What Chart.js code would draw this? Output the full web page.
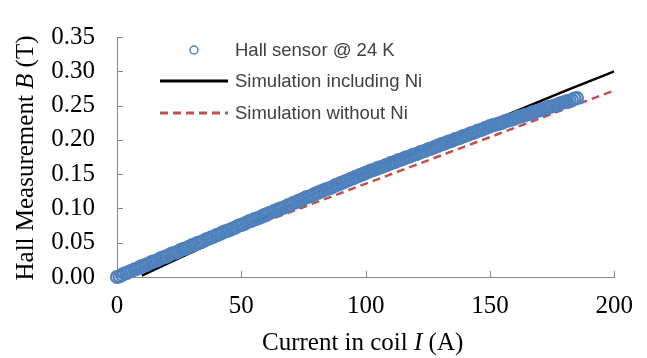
<!DOCTYPE html>
<html>
<head>
<meta charset="utf-8">
<script src="https://cdn.jsdelivr.net/npm/chart.js@4.4.1/dist/chart.umd.min.js"></script>
<style>
  html, body { margin: 0; padding: 0; background: #fff; }
  #wrap { width: 647px; height: 358px; }
</style>
</head>
<body>
<div id="wrap"><canvas id="hallChart" width="647" height="358"></canvas></div>
<script>
const seriesNames = ['Hall sensor @ 24 K', 'Simulation including Ni', 'Simulation without Ni'];

// Hall sensor @ 24 K (current in A, field in T)
const hallCurrent = [
  0, 1, 2, 3, 4, 5, 6, 7, 8, 9, 10, 11, 12, 13, 14, 15, 16, 17, 18, 19,
  20, 21, 22, 23, 24, 25, 26, 27, 28, 29, 30, 31, 32, 33, 34, 35, 36, 37, 38, 39,
  40, 41, 42, 43, 44, 45, 46, 47, 48, 49, 50, 51, 52, 53, 54, 55, 56, 57, 58, 59,
  60, 61, 62, 63, 64, 65, 66, 67, 68, 69, 70, 71, 72, 73, 74, 75, 76, 77, 78, 79,
  80, 81, 82, 83, 84, 85, 86, 87, 88, 89, 90, 91, 92, 93, 94, 95, 96, 97, 98, 99,
  100, 101, 102, 103, 104, 105, 106, 107, 108, 109, 110, 111, 112, 113, 114, 115, 116, 117, 118, 119,
  120, 121, 122, 123, 124, 125, 126, 127, 128, 129, 130, 131, 132, 133, 134, 135, 136, 137, 138, 139,
  140, 141, 142, 143, 144, 145, 146, 147, 148, 149, 150, 151, 152, 153, 154, 155, 156, 157, 158, 159,
  160, 161, 162, 163, 164, 165, 166, 167, 168, 169, 170, 171, 172, 173, 174, 175, 176, 177, 178, 179,
  180, 181, 182, 183, 184, 185];
const hallField = [
  0.000, 0.001, 0.003, 0.005, 0.006, 0.008, 0.009, 0.011, 0.012, 0.014,
  0.016, 0.017, 0.018, 0.020, 0.022, 0.023, 0.024, 0.026, 0.028, 0.029,
  0.030, 0.032, 0.034, 0.035, 0.036, 0.038, 0.040, 0.041, 0.042, 0.044,
  0.046, 0.047, 0.049, 0.050, 0.051, 0.053, 0.055, 0.056, 0.058, 0.059,
  0.061, 0.062, 0.064, 0.066, 0.067, 0.068, 0.070, 0.071, 0.073, 0.075,
  0.076, 0.077, 0.079, 0.081, 0.082, 0.084, 0.085, 0.086, 0.088, 0.090,
  0.091, 0.093, 0.094, 0.096, 0.097, 0.099, 0.100, 0.101, 0.103, 0.105,
  0.106, 0.108, 0.109, 0.111, 0.112, 0.114, 0.116, 0.117, 0.118, 0.120,
  0.122, 0.123, 0.125, 0.126, 0.128, 0.129, 0.130, 0.132, 0.134, 0.135,
  0.137, 0.138, 0.140, 0.141, 0.143, 0.144, 0.146, 0.147, 0.149, 0.150,
  0.152, 0.153, 0.155, 0.156, 0.157, 0.159, 0.160, 0.161, 0.163, 0.164,
  0.166, 0.167, 0.168, 0.170, 0.171, 0.172, 0.174, 0.175, 0.176, 0.178,
  0.179, 0.180, 0.182, 0.183, 0.184, 0.186, 0.187, 0.188, 0.190, 0.191,
  0.193, 0.194, 0.195, 0.197, 0.198, 0.199, 0.201, 0.202, 0.203, 0.205,
  0.206, 0.207, 0.209, 0.210, 0.211, 0.213, 0.214, 0.215, 0.217, 0.218,
  0.220, 0.221, 0.222, 0.223, 0.224, 0.225, 0.227, 0.228, 0.229, 0.230,
  0.231, 0.233, 0.234, 0.235, 0.236, 0.237, 0.238, 0.240, 0.241, 0.242,
  0.243, 0.244, 0.246, 0.247, 0.248, 0.249, 0.250, 0.251, 0.253, 0.254,
  0.255, 0.256, 0.257, 0.258, 0.260, 0.261];

// Simulation including Ni
const withNiCurrent = [10, 20, 30, 40, 50, 60, 70, 80, 90, 100, 120, 140, 160, 180, 200];
const withNiField = [0.002, 0.019, 0.036, 0.053, 0.070, 0.088, 0.105, 0.122, 0.138, 0.153, 0.183,
  0.212, 0.241, 0.271, 0.300];

// Simulation without Ni
const noNiCurrent = [0, 200];
const noNiField = [0, 0.272];

const xTicks = [0, 50, 100, 150, 200];
const yTicks = [0, 0.05, 0.10, 0.15, 0.20, 0.25, 0.30, 0.35];

const serif = '"Liberation Serif", "Times New Roman", serif';
const gray = '#868686';

const toPoints = (xs, ys) => xs.map((x, i) => ({ x: x, y: ys[i] }));

// text with italic symbol, centred on (x, y)
function drawMixed(ctx, parts, x, y, size) {
    let total = 0;
    parts.forEach(p => {
        ctx.font = (p[1] ? 'italic ' : '') + size + 'px ' + serif;
        total += ctx.measureText(p[0]).width;
    });
    let cx = x - total / 2;
    ctx.textAlign = 'left';
    ctx.textBaseline = 'middle';
    parts.forEach(p => {
        ctx.font = (p[1] ? 'italic ' : '') + size + 'px ' + serif;
        ctx.fillText(p[0], cx, y);
        cx += ctx.measureText(p[0]).width;
    });
}

const decorations = {
    id: 'decorations',
    beforeDatasetsDraw(chart) {
        const ctx = chart.ctx;
        const xs = chart.scales.x, ys = chart.scales.y;
        const area = chart.chartArea;
        ctx.save();
        ctx.strokeStyle = gray;
        ctx.lineWidth = 1;
        ctx.beginPath();
        xTicks.forEach(v => {
            const px = Math.round(xs.getPixelForValue(v)) + 0.5;
            ctx.moveTo(px, area.bottom);
            ctx.lineTo(px, area.bottom - 6);
        });
        yTicks.forEach(v => {
            const py = Math.round(ys.getPixelForValue(v)) + 0.5;
            ctx.moveTo(area.left, py);
            ctx.lineTo(area.left + 6, py);
        });
        ctx.stroke();
        ctx.restore();
    },
    afterDraw(chart) {
        const ctx = chart.ctx;
        const area = chart.chartArea;
        ctx.save();
        ctx.fillStyle = '#000';
        drawMixed(ctx, [['Current in coil ', false], ['I', true], [' (A)', false]],
            (area.left + area.right) / 2 - 3, 343, 25);
        ctx.translate(26, 158);
        ctx.rotate(-Math.PI / 2);
        drawMixed(ctx, [['Hall Measurement ', false], ['B', true], [' (T)', false]], 0, 0, 25);
        ctx.restore();

        // legend
        const rows = [50, 81, 113];
        const ds = chart.data.datasets;
        ctx.save();
        ctx.font = '18.5px "Liberation Sans", Arial, sans-serif';
        ctx.fillStyle = '#404040';
        ctx.textAlign = 'left';
        ctx.textBaseline = 'middle';
        rows.forEach((y, i) => {
            if (i === 0) {
                ctx.beginPath();
                ctx.arc(194, y, 4, 0, Math.PI * 2);
                ctx.strokeStyle = ds[0].borderColor;
                ctx.lineWidth = 1.5;
                ctx.stroke();
            } else {
                ctx.beginPath();
                ctx.setLineDash(ds[i].borderDash || []);
                ctx.strokeStyle = ds[i].borderColor;
                ctx.lineWidth = 3;
                ctx.moveTo(160, y);
                ctx.lineTo(228, y);
                ctx.stroke();
                ctx.setLineDash([]);
            }
            ctx.fillText(seriesNames[i], 235, y + 1);
        });
        ctx.restore();
    }
};

const ctx = document.getElementById('hallChart').getContext('2d');
new Chart(ctx, {
    type: 'scatter',
    data: {
        datasets: [{
            label: seriesNames[0],
            data: toPoints(hallCurrent, hallField),
            borderColor: '#4F81BD',
            backgroundColor: 'rgba(255,255,255,0)',
            pointRadius: 6,
            pointBorderWidth: 2.2,
            pointHoverRadius: 6,
            clip: false,
            order: 0
        }, {
            label: seriesNames[1],
            data: toPoints(withNiCurrent, withNiField),
            showLine: true,
            borderColor: '#000000',
            borderWidth: 2.5,
            pointRadius: 0,
            order: 1
        }, {
            label: seriesNames[2],
            data: toPoints(noNiCurrent, noNiField),
            showLine: true,
            borderColor: '#C0504D',
            borderWidth: 2.5,
            borderDash: [8, 5],
            pointRadius: 0,
            order: 2
        }]
    },
    options: {
        responsive: false,
        animation: false,
        events: [],
        layout: { padding: { top: 22, right: 32, bottom: 0, left: 0 } },
        plugins: {
            legend: { display: false },
            tooltip: { enabled: false }
        },
        scales: {
            x: {
                type: 'linear',
                min: 0,
                max: 200,
                afterBuildTicks: s => { s.ticks = xTicks.map(v => ({ value: v })); },
                afterFit: s => { s.height = 81; },
                grid: { display: true, drawOnChartArea: false, drawTicks: false },
                border: { display: true, color: gray, width: 1 },
                ticks: {
                    padding: 14,
                    color: '#000',
                    font: { family: serif, size: 25 },
                    callback: v => v
                }
            },
            y: {
                type: 'linear',
                min: 0,
                max: 0.35,
                afterBuildTicks: s => { s.ticks = yTicks.map(v => ({ value: v })); },
                afterFit: s => { s.width = 117; },
                grid: { display: true, drawOnChartArea: false, drawTicks: false },
                border: { display: true, color: gray, width: 1 },
                ticks: {
                    padding: 22,
                    color: '#000',
                    font: { family: serif, size: 25 },
                    callback: v => Number(v).toFixed(2)
                }
            }
        }
    },
    plugins: [decorations]
});
</script>
</body>
</html>
